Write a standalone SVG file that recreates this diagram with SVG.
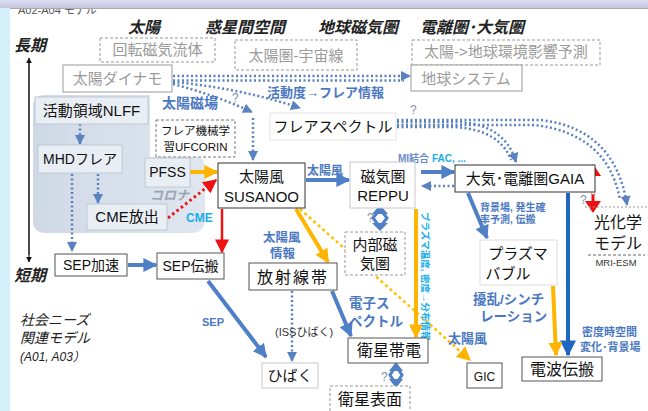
<svg xmlns="http://www.w3.org/2000/svg" width="648" height="411" viewBox="0 0 648 411">
<style>
text{font-family:"Liberation Sans","Noto Sans CJK JP",sans-serif}
.n{font-size:14px;fill:#111}
.m{font-size:15px;fill:#111}
.L{font-size:16px;fill:#111}
.g{font-size:14px;fill:#9a9a9a}
.h{font-size:16px;font-weight:bold;font-style:italic;fill:#222}
.bl{font-size:12px;font-weight:bold;fill:#4a78c2}
.cy{font-size:11px;font-weight:bold;fill:#19aeea}
.q{font-size:12px;fill:#8090a8}
.box{fill:#fff;stroke:#333;stroke-width:1}
.lbox{fill:#fff;stroke:#c8c8c8;stroke-width:1}
.dbox{fill:#fff;stroke:#777;stroke-width:1;stroke-dasharray:3 2}
.gbox{fill:#fff;stroke:#999;stroke-width:1}
.sbox{fill:#e9eef4;stroke:#c0c8d2;stroke-width:1}
.ab{stroke:#4f7fc6;stroke-width:4;fill:none}
.ao{stroke:#ffb400;stroke-width:4;fill:none}
.ar{stroke:#ee1111;stroke-width:2.5;fill:none}
.dot{stroke:#5a82c0;stroke-width:2.5;fill:none;stroke-dasharray:2 2.5}
</style>
<defs>
<marker id="mb" viewBox="0 0 10 10" refX="9" refY="5" markerWidth="14" markerHeight="14" markerUnits="userSpaceOnUse" orient="auto"><path d="M0,0 L10,5 L0,10 z" fill="#4f7fc6"/></marker>
<marker id="mdb" viewBox="0 0 10 10" refX="9" refY="5" markerWidth="18" markerHeight="16" markerUnits="userSpaceOnUse" orient="auto"><path d="M0,0 L10,5 L0,10 z" fill="#1f66c0"/></marker>
<marker id="mo" viewBox="0 0 10 10" refX="9" refY="5" markerWidth="14" markerHeight="14" markerUnits="userSpaceOnUse" orient="auto"><path d="M0,0 L10,5 L0,10 z" fill="#ffb400"/></marker>
<marker id="mr" viewBox="0 0 10 10" refX="9" refY="5" markerWidth="14" markerHeight="14" markerUnits="userSpaceOnUse" orient="auto"><path d="M0,0 L10,5 L0,10 z" fill="#ee1111"/></marker>
<marker id="md" viewBox="0 0 10 10" refX="9" refY="5" markerWidth="10" markerHeight="10" markerUnits="userSpaceOnUse" orient="auto"><path d="M0,0 L10,5 L0,10 z" fill="#5a82c0"/></marker>
<marker id="mk" viewBox="0 0 10 10" refX="9" refY="5" markerWidth="6" markerHeight="6" markerUnits="userSpaceOnUse" orient="auto"><path d="M0,0 L10,5 L0,10 z" fill="#111"/></marker>
<linearGradient id="band" x1="0" y1="0" x2="0" y2="1"><stop offset="0" stop-color="#dcdcf2"/><stop offset="1" stop-color="#c4c4dc"/></linearGradient>
<linearGradient id="shade" x1="0" y1="0" x2="1" y2="0"><stop offset="0" stop-color="#cfd9e6"/><stop offset="1" stop-color="#dfe6ef"/></linearGradient>
</defs>

<rect width="648" height="411" fill="#fff"/>
<rect x="0" y="0" width="10" height="411" fill="#d4f1fb"/>
<text x="18" y="14" style="font-size:11px;fill:#555">A02-A04 モデル</text>
<rect x="0" y="0" width="648" height="8" fill="url(#band)"/>
<line x1="10" y1="8.5" x2="648" y2="8.5" stroke="#aaa" stroke-width="1"/>

<!-- shaded solar region -->
<path d="M45,95 H150 V157 H195 Q205,157 205,168 V220 Q205,233 190,233 H46 Q33,233 33,220 V107 Q33,95 45,95 Z" fill="url(#shade)"/>
<text x="150" y="200" style="font-size:13px;font-style:italic;font-weight:bold;fill:#9aa4b2">コロナ</text>

<!-- headers -->
<text class="h" x="128" y="33">太陽</text>
<text class="h" x="205" y="33">惑星間空間</text>
<text class="h" x="318" y="33">地球磁気圏</text>
<text class="h" x="420" y="33">電離圏･大気圏</text>
<text class="h" x="14" y="51">長期</text>
<text class="h" x="14" y="281">短期</text>
<text x="20" y="325" style="font-size:14px;font-style:italic;fill:#222">社会ニーズ</text>
<text x="20" y="343" style="font-size:14px;font-style:italic;fill:#222">関連モデル</text>
<text x="20" y="361" style="font-size:12px;font-style:italic;fill:#222">(A01, A03）</text>

<!-- connectors -->
<g id="connectors">
<line x1="29" y1="255" x2="29" y2="58" stroke="#111" stroke-width="1" marker-end="url(#mk)"/>
<line x1="29" y1="60" x2="29" y2="262" stroke="#111" stroke-width="1" marker-end="url(#mk)"/>
<!-- dynamo dotted -->
<path class="dot" d="M173,76 H410" marker-end="url(#md)"/>
<path class="dot" d="M173,80.5 H404"/>
<path class="dot" d="M173,82 Q240,88 300,108" marker-end="url(#md)"/>
<path class="dot" d="M173,84 Q215,95 252,112" marker-end="url(#md)"/>
<path class="dot" d="M253,118 V160" marker-end="url(#md)"/>
<!-- flare spectrum arcs -->
<path class="dot" d="M397,122 H460 Q505,125 516,162" marker-end="url(#md)"/>
<path class="dot" d="M397,127 H455 Q500,130 511,160"/>
<path class="dot" d="M397,120 H540 Q615,128 627,205" marker-end="url(#md)"/>
<path class="dot" d="M397,125 H535 Q608,134 620,200"/>
<!-- solar internal -->
<path class="dot" d="M80,124 V144" marker-end="url(#md)"/>
<path class="dot" d="M98,174 V203" marker-end="url(#md)"/>
<path class="dot" d="M72,174 V251" marker-end="url(#md)"/>
<path d="M168,218 L216,180" stroke="#ee1111" stroke-width="3" stroke-dasharray="2.5 3" fill="none" marker-end="url(#mr)"/>
<path class="ao" d="M190,172 H217" marker-end="url(#mo)"/>
<path class="ab" d="M306,180 H349" marker-end="url(#mb)"/>
<path class="ar" d="M222,209 V252" marker-end="url(#mr)"/>
<path class="ao" d="M296,209 L328,262" marker-end="url(#mo)"/>
<path d="M300,209 L470,360" stroke="#ffc000" stroke-width="2.5" stroke-dasharray="3 3" fill="none" marker-end="url(#mo)"/>
<!-- magnetosphere <-> inner -->
<path d="M380,209 L373,218 L380,227 L387,218 Z" fill="#fff" stroke="#4f7fc6" stroke-width="3"/>
<path d="M372,214 L380,205 L388,214 Z M372,223 L380,231 L388,223 Z" fill="#4f7fc6"/>
<path class="ab" d="M421,172 H454" marker-end="url(#mb)"/>
<path class="dot" d="M454,186 H422" marker-end="url(#md)"/>
<path class="ao" d="M416,209 V337" marker-end="url(#mo)"/>
<path class="ab" d="M468,193 L487,238" marker-end="url(#mb)"/>
<path d="M568,193 V355" stroke="#1f66c0" stroke-width="4" fill="none" marker-end="url(#mdb)"/>
<path class="ao" d="M553,286 L556,355" marker-end="url(#mo)"/>
<!-- GAIA <-> photochem red -->
<path d="M593,173 V205" stroke="#ee1111" stroke-width="3"/>
<path d="M585,176 L593,164 L601,176 Z M585,201 L593,213 L601,201 Z" fill="#ee1111"/>
<path d="M593,183 L589,189 L593,195 L597,189 Z" fill="#fff"/>
<!-- SEP -->
<path class="ab" d="M128,265 H156" marker-end="url(#mb)"/>
<path class="ab" d="M208,281 L266,357" marker-end="url(#mb)"/>
<path class="dot" d="M292,291 V361" marker-end="url(#md)"/>
<path class="ab" d="M332,291 L351,336" marker-end="url(#mb)"/>
<!-- satellite charging <-> surface -->
<path d="M396,366 L390,375 L396,384 L402,375 Z" fill="#fff" stroke="#4f7fc6" stroke-width="3"/>
<path d="M389,371 L396,362 L403,371 Z M389,379 L396,388 L403,379 Z" fill="#4f7fc6"/>
</g>

<!-- labels -->
<text class="bl" x="162" y="108" style="font-size:14px">太陽磁場</text>
<text class="bl" x="267" y="97" style="font-size:13px">活動度→フレア情報</text>
<text class="q" x="232" y="102">?</text>
<text class="q" x="410" y="114">?</text>
<text class="bl" x="307" y="175">太陽風</text>
<text x="398" y="162" style="font-size:10px;font-weight:bold"><tspan fill="#6a8ccc">MI結合 </tspan><tspan fill="#19aeea">FAC, ...</tspan></text>
<text class="cy" x="186" y="222" style="font-size:12px">CME</text>
<text class="bl" x="263" y="242" style="font-size:12.5px">太陽風</text>
<text class="bl" x="270" y="258" style="font-size:12.5px">情報</text>
<text class="q" x="367" y="222">?</text>
<text class="bl" x="480" y="211" style="font-size:10px">背景場, 発生確</text>
<text class="bl" x="480" y="223" style="font-size:10px">率予測, 伝搬</text>
<text class="q" x="580" y="204">?</text>
<text x="0" y="0" transform="translate(422,212) rotate(90)" style="font-size:9.5px;font-weight:bold;fill:#19aeea">プラズマ温度, 密度→分布情報</text>
<text class="bl" x="473" y="304" style="font-size:13.5px">擾乱/シンチ</text>
<text class="bl" x="480" y="321" style="font-size:13.5px">レーション</text>
<text class="bl" x="582" y="336" style="font-size:11px">密度時空間</text>
<text class="bl" x="580" y="351" style="font-size:11px">変化･背景場</text>
<text class="bl" x="448" y="343" style="font-size:13px">太陽風</text>
<text class="bl" x="349" y="308" style="font-size:13.5px">電子ス</text>
<text class="bl" x="349" y="326" style="font-size:13.5px">ペクトル</text>
<text class="bl" x="202" y="326" style="font-size:11px">SEP</text>
<text x="275" y="336" style="font-size:11px;fill:#333">(ISSひばく)</text>
<text class="q" x="381" y="381">?</text>

<!-- nodes -->
<g id="n-kaiten"><rect class="dbox" x="100" y="38" width="115" height="24" style="stroke:#999"/><text class="g" x="157.5" y="55" text-anchor="middle" style="font-size:15px">回転磁気流体</text></g>
<g id="n-taiyouken"><rect class="dbox" x="235" y="40" width="122" height="30" style="stroke:#999"/><text class="g" x="296" y="61" text-anchor="middle" style="font-size:15px">太陽圏-宇宙線</text></g>
<g id="n-eikyou"><rect class="dbox" x="412" y="40" width="188" height="25" style="stroke:#999"/><text class="g" x="506" y="57" text-anchor="middle" style="font-size:15px">太陽-&gt;地球環境影響予測</text></g>
<g id="n-chikyu"><rect class="gbox" x="411" y="65" width="111" height="26"/><text class="g" x="466" y="84" text-anchor="middle" style="font-size:15px">地球システム</text></g>
<g id="n-dynamo"><rect class="gbox" x="63" y="65" width="109" height="27"/><text class="g" x="117.5" y="84" text-anchor="middle" style="font-size:15px">太陽ダイナモ</text></g>
<g id="n-nlff"><rect class="sbox" x="35" y="97" width="113" height="27"/><text class="m" x="91.5" y="116" text-anchor="middle">活動領域NLFF</text></g>
<g id="n-ufcorin"><rect class="dbox" x="156" y="120" width="79" height="37"/><text x="195.5" y="135" text-anchor="middle" style="font-size:11.5px;fill:#111">フレア機械学</text><text x="195.5" y="151" text-anchor="middle" style="font-size:11.5px;fill:#111">習UFCORIN</text></g>
<g id="n-mhd"><rect class="sbox" x="38" y="145" width="84" height="28"/><text class="n" x="80" y="164" text-anchor="middle">MHDフレア</text></g>
<g id="n-pfss"><rect class="sbox" x="145" y="158" width="45" height="29"/><text class="n" x="167.5" y="177" text-anchor="middle">PFSS</text></g>
<g id="n-cme"><rect class="sbox" x="87" y="204" width="80" height="26"/><text class="m" x="127" y="222" text-anchor="middle">CME放出</text></g>
<g id="n-flarespec"><rect class="lbox" x="270" y="113" width="126" height="27" style="stroke:#e4e4e4"/><text class="m" x="333" y="132" text-anchor="middle">フレアスペクトル</text></g>
<g id="n-susanoo"><rect class="box" x="218" y="163" width="87" height="45"/><text class="m" x="261.5" y="182" text-anchor="middle">太陽風</text><text class="m" x="261.5" y="202" text-anchor="middle">SUSANOO</text></g>
<g id="n-reppu"><rect class="lbox" x="350" y="162" width="65" height="46"/><text class="m" x="383" y="182" text-anchor="middle">磁気圏</text><text class="m" x="383" y="201" text-anchor="middle">REPPU</text></g>
<g id="n-inner"><rect class="dbox" x="345" y="232" width="60" height="43" style="stroke:#999"/><text class="m" x="375" y="250" text-anchor="middle">内部磁</text><text class="m" x="375" y="269" text-anchor="middle">気圏</text></g>
<g id="n-gaia"><rect class="box" x="455" y="165" width="140" height="27"/><text class="m" x="525" y="184" text-anchor="middle">大気･電離圏GAIA</text></g>
<g id="n-photo"><line x1="585" y1="207" x2="648" y2="207" stroke="#999" stroke-dasharray="2 2"/><text class="L" x="618" y="228" text-anchor="middle">光化学</text><text class="L" x="618" y="249" text-anchor="middle">モデル</text><line x1="588" y1="255" x2="645" y2="255" stroke="#666" stroke-dasharray="3 2"/><text x="616" y="266" text-anchor="middle" style="font-size:9.5px;fill:#333">MRI-ESM</text></g>
<g id="n-bubble"><rect class="lbox" x="480" y="240" width="77" height="45" style="stroke:#ddd"/><text class="m" x="518" y="259" text-anchor="middle">プラズマ</text><text class="m" x="508" y="279" text-anchor="middle">バブル</text></g>
<g id="n-sepacc"><rect class="box" x="55" y="254" width="72" height="22" style="stroke:#555"/><text class="n" x="91" y="270" text-anchor="middle">SEP加速</text></g>
<g id="n-sepprop"><rect class="box" x="157" y="253" width="67" height="26" style="stroke:#555"/><text class="n" x="190.5" y="271" text-anchor="middle">SEP伝搬</text></g>
<g id="n-radbelt"><rect class="box" x="249" y="263" width="88" height="27" style="stroke:#555"/><text class="L" x="293" y="283" text-anchor="middle" style="letter-spacing:2px">放射線帯</text></g>
<g id="n-hibaku"><rect class="lbox" x="262" y="363" width="56" height="25"/><text class="m" x="290" y="381" text-anchor="middle">ひばく</text></g>
<g id="n-charging"><rect class="box" x="348" y="338" width="80" height="25" style="stroke:#555"/><text class="L" x="389" y="356" text-anchor="middle">衛星帯電</text></g>
<g id="n-surface"><rect class="dbox" x="330" y="386" width="80" height="30" style="stroke:#999"/><text class="L" x="370" y="405" text-anchor="middle">衛星表面</text></g>
<g id="n-gic"><rect class="box" x="467" y="363" width="35" height="25" style="stroke:#555"/><text class="n" x="484.5" y="381" text-anchor="middle" style="font-size:12px">GIC</text></g>
<g id="n-radio"><rect class="box" x="522" y="357" width="80" height="24" style="stroke:#555"/><text class="L" x="562" y="375" text-anchor="middle">電波伝搬</text></g>
</svg>
